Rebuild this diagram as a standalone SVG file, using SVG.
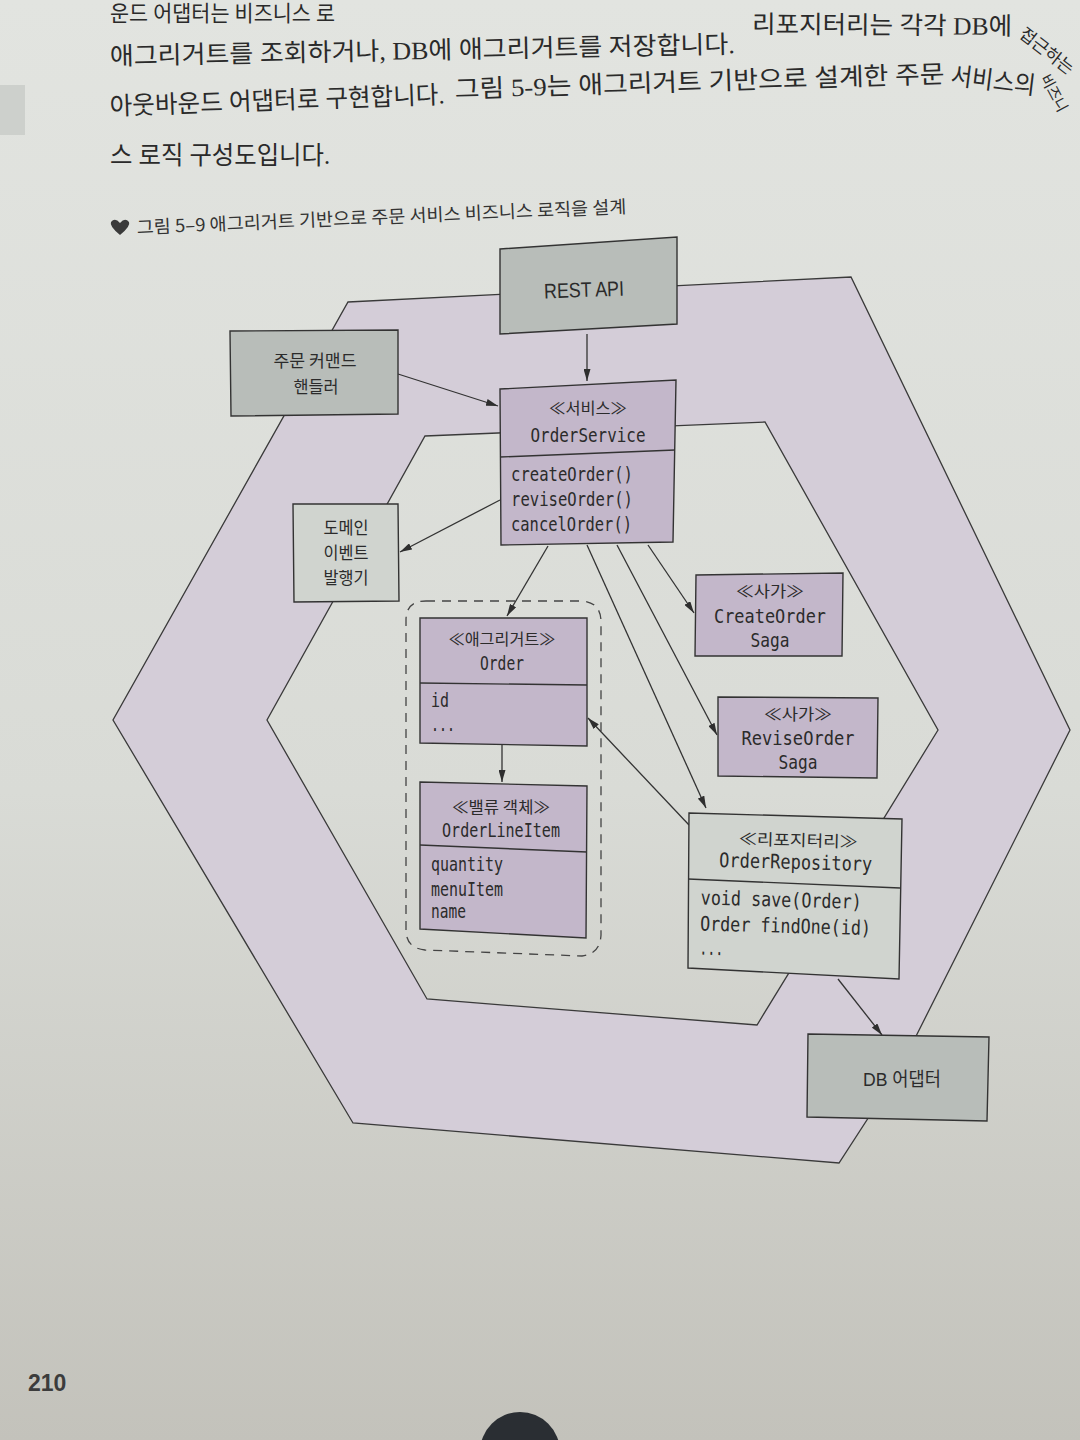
<svg xmlns="http://www.w3.org/2000/svg" width="1080" height="1440" viewBox="0 0 1080 1440">
  <defs>
    <linearGradient id="page" x1="0" y1="0" x2="0" y2="1">
      <stop offset="0" stop-color="#e2e4e0"/>
      <stop offset="0.55" stop-color="#d9dbd6"/>
      <stop offset="1" stop-color="#c3c2bb"/>
    </linearGradient>
    <marker id="ah" viewBox="0 0 12 7" refX="12" refY="3.5" markerWidth="12" markerHeight="7" markerUnits="userSpaceOnUse" orient="auto">
      <path d="M0,0 L12,3.5 L0,7 Z" fill="#2e2e2e"/>
    </marker>
    <style>
      .band{fill:#d4cdd8;stroke:#3a3a3a;stroke-width:1.3;fill-rule:evenodd}
      .box{stroke:#333;stroke-width:1.4}
      .div{stroke:#333;stroke-width:1.4;fill:none}
      .gray{fill:#b8bdb9}
      .light{fill:#d0d4cf}
      .purple{fill:#c3b7ca}
      .ko{font-family:"Noto Sans CJK KR","Noto Sans",sans-serif;font-size:17px;fill:#2b2b2b;text-anchor:middle}
      .st{font-family:"Noto Sans CJK KR","Noto Sans",sans-serif;font-size:16px;fill:#2b2b2b;text-anchor:middle}
      .mono{font-family:"DejaVu Sans Mono","Liberation Mono",monospace;font-size:20px;fill:#2b2b2b}
      .mc{text-anchor:middle}
      .body{font-family:"Liberation Serif","Noto Sans CJK KR",serif;font-size:25px;fill:#2a2a2a}
      .cap{font-family:"Noto Sans CJK KR","Noto Sans",sans-serif;font-size:18px;fill:#333}
      .conn line{stroke:#333;stroke-width:1.3;marker-end:url(#ah)}
    </style>
  </defs>

  <!-- page -->
  <rect x="0" y="0" width="1080" height="1440" fill="url(#page)"/>
  <rect x="0" y="85" width="25" height="50" fill="#cdd0cc"/>

  <!-- body text -->
  <g id="bodytext">
    <text class="body" x="110" y="21" style="font-size:22px" textLength="225" lengthAdjust="spacingAndGlyphs">운드 어댑터는 비즈니스 로</text>
    <text class="body" x="110" y="65" transform="rotate(-1.1 110 65)" textLength="625" lengthAdjust="spacingAndGlyphs">애그리거트를 조회하거나, DB에 애그리거트를 저장합니다.</text>
    <text class="body" x="752" y="33" transform="rotate(0.4 752 33)" textLength="260" lengthAdjust="spacingAndGlyphs">리포지터리는 각각 DB에</text>
    <text class="body" x="1018" y="36" transform="rotate(38 1018 36)" style="font-size:17px" textLength="64" lengthAdjust="spacingAndGlyphs">접근하는</text>
    <text class="body" x="110" y="115" transform="rotate(-2 110 115)" textLength="335" lengthAdjust="spacingAndGlyphs">아웃바운드 어댑터로 구현합니다.</text>
    <text class="body" x="455" y="98" transform="rotate(-1.8 455 98)" textLength="490" lengthAdjust="spacingAndGlyphs">그림 5-9는 애그리거트 기반으로 설계한 주문</text>
    <text class="body" x="950" y="84" transform="rotate(7 950 84)" textLength="85" lengthAdjust="spacingAndGlyphs">서비스의</text>
    <text class="body" x="1040" y="78" transform="rotate(62 1040 78)" style="font-size:15px" textLength="40" lengthAdjust="spacingAndGlyphs">비즈니</text>
    <text class="body" x="110" y="164" textLength="220" lengthAdjust="spacingAndGlyphs">스 로직 구성도입니다.</text>
  </g>

  <!-- caption -->
  <g id="caption">
    <path d="M111,222 Q115,217 120,223 Q125,217 129,222 Q131,226 120,235 Q109,226 111,222 Z" fill="#3a3a3a"/>
    <text class="cap" x="137" y="234" transform="rotate(-2.45 137 234)" textLength="490" lengthAdjust="spacingAndGlyphs">그림 5–9  애그리거트 기반으로 주문 서비스 비즈니스 로직을 설계</text>
  </g>

  <!-- hexagonal band -->
  <path id="hexagon" class="band" d="M348,302 L851,277 L1070,730 L898,1072 L839,1163 L353,1123 L113,720 Z M425,436 L765,422 L938,730 L757,1025 L427,999 L267,720 Z"/>

  <!-- aggregate boundary -->
  <g id="aggregate-boundary">
    <path d="M426,601 L583,601 Q601,603 601,622 L601,935 Q600,954 582,956 L425,950 Q406,948 406,930 L406,620 Q406,601 426,601 Z" fill="none" stroke="#444" stroke-width="1.3" stroke-dasharray="9,7"/>
  </g>

  <!-- connectors -->
  <g id="connectors" class="conn">
    <line x1="587" y1="334" x2="587" y2="381"/>
    <line x1="398" y1="374" x2="498" y2="406"/>
    <line x1="500" y1="500" x2="400" y2="552"/>
    <line x1="548" y1="546" x2="507" y2="616"/>
    <line x1="587" y1="545" x2="706" y2="808"/>
    <line x1="617" y1="545" x2="717" y2="735"/>
    <line x1="648" y1="545" x2="694" y2="613"/>
    <line x1="689" y1="825" x2="588" y2="718"/>
    <line x1="502" y1="745" x2="502" y2="782"/>
    <line x1="838" y1="979" x2="882" y2="1035"/>
  </g>

  <!-- nodes -->
  <g id="rest-api">
    <polygon class="box gray" points="500,249 677,237 677,324 500,334"/>
    <text class="ko" x="584" y="297" transform="rotate(-2 584 290)" textLength="80" lengthAdjust="spacingAndGlyphs" style="font-family:'Liberation Sans','Noto Sans',sans-serif;font-size:21px">REST API</text>
  </g>

  <g id="order-command-handler">
    <polygon class="box gray" points="230,331 398,330 398,414 231,416"/>
    <text class="ko" x="315" y="367" textLength="83" lengthAdjust="spacingAndGlyphs">주문 커맨드</text>
    <text class="ko" x="316" y="393" textLength="45" lengthAdjust="spacingAndGlyphs">핸들러</text>
  </g>

  <g id="order-service">
    <polygon class="box purple" points="500,389 676,380 673,542 501,545"/>
    <line class="div" x1="500" y1="457" x2="675" y2="450"/>
    <text class="st" x="588" y="414" textLength="78" lengthAdjust="spacingAndGlyphs">≪서비스≫</text>
    <text class="mono mc" x="588" y="442" textLength="115" lengthAdjust="spacingAndGlyphs">OrderService</text>
    <text class="mono" x="511" y="481" textLength="122" lengthAdjust="spacingAndGlyphs">createOrder()</text>
    <text class="mono" x="511" y="506" textLength="122" lengthAdjust="spacingAndGlyphs">reviseOrder()</text>
    <text class="mono" x="511" y="531" textLength="121" lengthAdjust="spacingAndGlyphs">cancelOrder()</text>
  </g>

  <g id="domain-event-publisher">
    <polygon class="box light" points="293,504 398,504 399,601 294,602"/>
    <text class="ko" x="346" y="534" textLength="45" lengthAdjust="spacingAndGlyphs">도메인</text>
    <text class="ko" x="346" y="559" textLength="45" lengthAdjust="spacingAndGlyphs">이벤트</text>
    <text class="ko" x="346" y="584" textLength="45" lengthAdjust="spacingAndGlyphs">발행기</text>
  </g>

  <g id="order">
    <polygon class="box purple" points="420,618 587,618 587,746 420,743"/>
    <line class="div" x1="420" y1="683" x2="587" y2="685"/>
    <text class="st" x="502" y="645" textLength="107" lengthAdjust="spacingAndGlyphs">≪애그리거트≫</text>
    <text class="mono mc" x="502" y="670" textLength="44" lengthAdjust="spacingAndGlyphs">Order</text>
    <text class="mono" x="431" y="707" textLength="18" lengthAdjust="spacingAndGlyphs">id</text>
    <text class="mono" x="431" y="731" textLength="24" lengthAdjust="spacingAndGlyphs">...</text>
  </g>

  <g id="order-line-item">
    <polygon class="box purple" points="420,782 587,786 586,938 420,929"/>
    <line class="div" x1="420" y1="845" x2="587" y2="852"/>
    <text class="st" x="501" y="813" textLength="98" lengthAdjust="spacingAndGlyphs">≪밸류 객체≫</text>
    <text class="mono mc" x="501" y="837" textLength="118" lengthAdjust="spacingAndGlyphs">OrderLineItem</text>
    <text class="mono" x="431" y="871" textLength="72" lengthAdjust="spacingAndGlyphs">quantity</text>
    <text class="mono" x="431" y="896" textLength="72" lengthAdjust="spacingAndGlyphs">menuItem</text>
    <text class="mono" x="431" y="918" textLength="35" lengthAdjust="spacingAndGlyphs">name</text>
  </g>

  <g id="create-order-saga">
    <polygon class="box purple" points="696,575 843,573 842,656 695,656"/>
    <text class="st" x="770" y="597" textLength="68" lengthAdjust="spacingAndGlyphs">≪사가≫</text>
    <text class="mono mc" x="770" y="623" textLength="112" lengthAdjust="spacingAndGlyphs">CreateOrder</text>
    <text class="mono mc" x="770" y="647" textLength="39" lengthAdjust="spacingAndGlyphs">Saga</text>
  </g>

  <g id="revise-order-saga">
    <polygon class="box purple" points="718,697 878,698 877,778 718,776"/>
    <text class="st" x="798" y="720" textLength="68" lengthAdjust="spacingAndGlyphs">≪사가≫</text>
    <text class="mono mc" x="798" y="745" textLength="113" lengthAdjust="spacingAndGlyphs">ReviseOrder</text>
    <text class="mono mc" x="798" y="769" textLength="39" lengthAdjust="spacingAndGlyphs">Saga</text>
  </g>

  <g id="order-repository">
    <polygon class="box light" points="689,813 902,819 899,979 688,968"/>
    <line class="div" x1="688" y1="879" x2="900" y2="888"/>
    <g transform="rotate(1.5 795 890)">
      <text class="st" x="797" y="846" textLength="119" lengthAdjust="spacingAndGlyphs">≪리포지터리≫</text>
      <text class="mono mc" x="795" y="869" textLength="153" lengthAdjust="spacingAndGlyphs">OrderRepository</text>
      <text class="mono" x="701" y="907" textLength="161" lengthAdjust="spacingAndGlyphs">void save(Order)</text>
      <text class="mono" x="701" y="933" textLength="171" lengthAdjust="spacingAndGlyphs">Order findOne(id)</text>
      <text class="mono" x="701" y="957" textLength="24" lengthAdjust="spacingAndGlyphs">...</text>
    </g>
  </g>

  <g id="db-adapter">
    <polygon class="box gray" points="808,1034 989,1037 987,1121 807,1117"/>
    <text class="ko" x="902" y="1086" textLength="78" lengthAdjust="spacingAndGlyphs" style="font-family:'Liberation Sans','Noto Sans CJK KR',sans-serif;font-size:19px">DB 어댑터</text>
  </g>

  <!-- page number -->
  <text x="28" y="1391" style="font-family:'Liberation Sans',sans-serif;font-size:23px;font-weight:bold;fill:#3c3c3c">210</text>

  <!-- dark object at bottom -->
  <ellipse cx="520" cy="1452" rx="40" ry="40" fill="#2a2e33"/>
</svg>
